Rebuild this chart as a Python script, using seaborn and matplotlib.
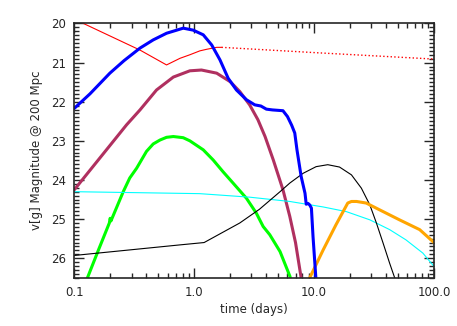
import numpy as np
import pandas as pd
import seaborn as sns
import matplotlib
matplotlib.use("Agg")
import matplotlib.pyplot as plt
from matplotlib.ticker import FixedLocator, MultipleLocator, LogLocator, NullFormatter

# ── Data ──────────────────────────────────────────────────────────────────────
red_t   = [0.1, 0.353, 0.588, 0.762, 0.92, 1.115, 1.27, 1.54, 1.69]
red_m   = [19.89, 20.68, 21.06, 20.89, 20.8, 20.7, 20.66, 20.61, 20.61]

red_dot_t = [1.69, 10.8, 100.0]
red_dot_m = [20.61, 20.75, 20.91]

blue_t = [0.1, 0.135, 0.198, 0.26, 0.353, 0.455, 0.588, 0.81, 0.98, 1.19,
          1.40, 1.64, 1.92, 2.25, 2.73, 3.2, 3.6, 4.0, 4.5, 5.5, 6.0, 6.5,
          6.9, 7.2, 7.8, 8.4, 8.6, 8.9, 9.2, 9.5, 9.8, 10.4]
blue_m = [22.17, 21.8, 21.27, 20.95, 20.63, 20.42, 20.25, 20.12, 20.17, 20.29,
          20.55, 20.93, 21.4, 21.7, 21.95, 22.08, 22.11, 22.19, 22.21, 22.23,
          22.38, 22.6, 22.8, 23.23, 23.91, 24.34, 24.62, 24.6, 24.64, 24.72,
          25.45, 26.6]

maroon_t = [0.1, 0.273, 0.353, 0.485, 0.67, 0.92, 1.15, 1.54, 2.0, 2.4, 2.9,
            3.4, 3.9, 4.57, 5.5, 6.27, 7.0, 7.8, 7.9]
maroon_m = [24.25, 22.59, 22.21, 21.7, 21.37, 21.21, 21.19, 21.27, 21.49,
            21.74, 22.08, 22.46, 22.89, 23.49, 24.25, 24.93, 25.6, 26.5, 26.6]

green_t = [0.125, 0.159, 0.196, 0.199, 0.202, 0.256, 0.29, 0.331, 0.4, 0.455,
           0.518, 0.588, 0.67, 0.81, 0.92, 1.19, 1.44, 1.74, 2.11, 2.73, 3.3,
           3.76, 4.27, 5.2, 6.3, 6.4]
green_m = [26.6, 25.79, 25.1, 24.98, 25.05, 24.3, 23.95, 23.7, 23.27, 23.08,
           22.98, 22.91, 22.89, 22.92, 23.0, 23.23, 23.49, 23.79, 24.08, 24.47,
           24.85, 25.19, 25.4, 25.83, 26.47, 26.6]

cyan_t = [0.1, 1.11, 2.9, 6.27, 11.9, 18.6, 29.2, 42.7, 58.3, 80.8, 100.0]
cyan_m = [24.3, 24.35, 24.44, 24.55, 24.69, 24.81, 25.02, 25.27, 25.53, 25.87,
          26.21]

black_t = [0.1, 0.76, 1.21, 2.4, 3.5, 5.2, 6.27, 8.1, 10.4, 13.0, 16.3, 20.5,
           24.8, 29.2, 33.1, 37.6, 42.7, 47.0, 48.0]
black_m = [25.93, 25.66, 25.6, 25.1, 24.75, 24.3, 24.08, 23.83, 23.66, 23.61,
           23.67, 23.87, 24.21, 24.64, 25.1, 25.61, 26.13, 26.5, 26.6]

orange_t = [9.1, 9.2, 11.9, 15.2, 19.1, 20.5, 22.6, 27.2, 35.0, 51.6, 76.0,
            100.0]
orange_m = [26.6, 26.5, 25.79, 25.15, 24.59, 24.55, 24.55, 24.59, 24.76,
            25.02, 25.27, 25.6]

# ── Plot ──────────────────────────────────────────────────────────────────────
sns.set_style("ticks")
plt.rcParams["font.family"] = ["DejaVu Sans"]

fig = plt.figure(figsize=(4.57, 3.26), dpi=100)
ax = fig.add_axes([0.1626, 0.148, 0.787, 0.78])

series = [
    (red_t, red_m, "#ff0000", 0.8, "-"),
    (red_dot_t, red_dot_m, "#ff0000", 1.0, ":"),
    (maroon_t, maroon_m, "#b03060", 2.2, "-"),
    (green_t, green_m, "#00ff00", 2.2, "-"),
    (cyan_t, cyan_m, "#00ffff", 0.8, "-"),
    (black_t, black_m, "#000000", 0.8, "-"),
    (orange_t, orange_m, "#ffa500", 2.2, "-"),
    (blue_t, blue_m, "#0000ff", 2.2, "-"),
]
for t, m, col, lw, ls in series:
    df = pd.DataFrame({"t": t, "m": m})
    sns.lineplot(data=df, x="t", y="m", ax=ax, color=col, linewidth=lw,
                 linestyle=ls, estimator=None, sort=False)

ax.set_xscale("log")
ax.set_xlim(0.1, 100)
ax.set_ylim(26.5, 20)

ax.xaxis.set_major_locator(FixedLocator([0.1, 1, 10, 100]))
ax.set_xticklabels(["0.1", "1.0", "10.0", "100.0"])
ax.xaxis.set_minor_locator(LogLocator(base=10, subs=np.arange(2, 10)))
ax.xaxis.set_minor_formatter(NullFormatter())
ax.yaxis.set_major_locator(MultipleLocator(1))
ax.yaxis.set_minor_locator(MultipleLocator(0.1))

ax.tick_params(which="both", direction="in", top=True, right=True,
               labelsize=8.5, width=1.0, pad=6)
ax.tick_params(which="major", length=7)
ax.tick_params(which="minor", length=3.5)
for s in ax.spines.values():
    s.set_linewidth(1.2)

ax.set_xlabel("time (days)", fontsize=8.5, labelpad=3)
ax.set_ylabel("v[g] Magnitude @ 200 Mpc", fontsize=8.5, labelpad=6)

fig.savefig("out.png", dpi=100)
